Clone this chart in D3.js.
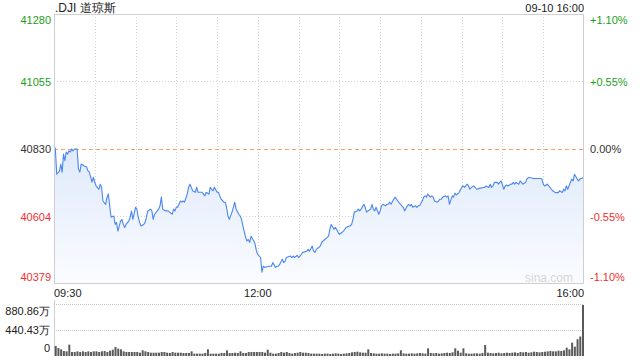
<!DOCTYPE html>
<html><head><meta charset="utf-8">
<script src="https://cdn.jsdelivr.net/npm/d3@7"></script>
<style>body{margin:0;background:#fff}svg{display:block}text{font-family:"Liberation Sans",Arial,sans-serif}</style>
</head><body><svg id="c" width="640" height="360"></svg>
<script>
const title = ".DJI 道琼斯";
const stamp = "09-10 16:00";
const prevClose = 40830;
const pctTicks = [0.011, 0.0055, 0, -0.0055, -0.011];
const priceLabels = ["41280", "41055", "40830", "40604", "40379"];
const pctLabels = ["+1.10%", "+0.55%", "0.00%", "-0.55%", "-1.10%"];
const timeLabels = [[0, "09:30"], [150, "12:00"], [390, "16:00"]];
const volTicks = [880.86, 440.43, 0];
const volLabels = ["880.86万", "440.43万", "0"];
// [minute since 09:30, price]
const series = [[0,40843],[1,40830],[2,40746],[4,40756],[5,40780],[6,40753],[7,40813],[8,40791],[9,40820],[10,40813],[11,40824],[12,40820],[13,40830],[14,40824],[15,40830],[17,40830],[18,40763],[19,40753],[20,40780],[22,40774],[24,40770],[25,40757],[26,40753],[28,40720],[29,40736],[30,40720],[31,40707],[33,40696],[34,40713],[35,40703],[36,40657],[38,40646],[39,40670],[40,40680],[41,40641],[42,40603],[44,40607],[45,40579],[46,40586],[47,40557],[49,40590],[50,40596],[51,40579],[52,40569],[53,40579],[55,40590],[56,40603],[57,40624],[58,40596],[60,40636],[61,40630],[62,40603],[63,40586],[64,40574],[66,40579],[67,40586],[68,40603],[69,40624],[71,40630],[72,40624],[73,40596],[74,40613],[76,40624],[77,40630],[78,40641],[79,40670],[80,40630],[82,40624],[84,40624],[85,40620],[87,40613],[88,40630],[89,40624],[90,40636],[91,40636],[93,40657],[94,40653],[95,40657],[96,40653],[98,40680],[99,40702],
[100,40713],[101,40703],[102,40691],[104,40686],[105,40703],[106,40686],[109,40686],[110,40680],[111,40674],[112,40686],[114,40680],[115,40703],[116,40696],[117,40691],[118,40703],[120,40686],[121,40686],[122,40674],[123,40663],[125,40653],[126,40653],[127,40636],[128,40607],[129,40596],[131,40620],[132,40636],[133,40653],[134,40630],[136,40613],[137,40607],[138,40596],[139,40574],[141,40536],[142,40524],[143,40529],[144,40519],[145,40540],[147,40524],[148,40513],[149,40490],[150,40479],[152,40469],[153,40420],[154,40440],[155,40436],[158,40440],[160,40440],[161,40452],[163,40436],[164,40440],[165,40440],[166,40446],[168,40463],[169,40452],[170,40457],[171,40469],[174,40474],[175,40469],[176,40474],[177,40469],[179,40476],[180,40469],[181,40474],[182,40479],[183,40486],[186,40490],[187,40496],[188,40490],[190,40507],[191,40490],[192,40486],[193,40496],[195,40503],[196,40508],[197,40519],[198,40524],
[201,40536],[202,40540],[203,40563],[204,40579],[206,40563],[207,40569],[208,40563],[209,40553],[210,40546],[212,40553],[213,40557],[214,40563],[215,40569],[217,40574],[218,40574],[219,40579],[220,40596],[221,40620],[223,40624],[224,40630],[225,40624],[226,40630],[228,40646],[229,40636],[230,40620],[231,40624],[233,40630],[234,40646],[235,40630],[236,40624],[237,40636],[239,40613],[240,40624],[241,40641],[242,40646],[244,40641],[245,40646],[246,40646],[247,40653],[248,40646],[250,40663],[251,40670],[252,40663],[253,40657],[255,40646],[256,40641],[257,40636],[258,40624],[260,40641],[261,40646],[262,40641],[263,40646],[264,40636],[266,40641],[267,40636],[268,40641],[269,40641],[271,40657],[272,40670],[273,40674],[274,40670],[275,40680],[277,40670],[278,40674],[279,40670],[280,40657],[282,40653],[283,40657],[284,40663],[285,40663],[286,40670],[288,40674],[289,40670],[290,40674],[291,40646],[293,40674],[294,40670],[295,40683],[296,40677],[298,40685],
[300,40702],[301,40707],[302,40702],[304,40713],[305,40707],[306,40696],[307,40702],[309,40707],[310,40702],[311,40696],[313,40699],[316,40702],[317,40702],[318,40707],[320,40702],[321,40713],[322,40702],[323,40707],[324,40719],[326,40719],[327,40713],[328,40719],[329,40724],[331,40696],[332,40707],[333,40710],[334,40707],[336,40713],[337,40713],[338,40719],[339,40713],[340,40719],[342,40713],[343,40724],[344,40719],[345,40713],[347,40719],[348,40730],[349,40735],[350,40735],[353,40732],[355,40732],[358,40732],[359,40730],[360,40713],[361,40707],[363,40713],[364,40707],[365,40702],[366,40696],[367,40691],[369,40685],[371,40685],[372,40691],[374,40685],[375,40696],[376,40691],[377,40707],[378,40696],[380,40719],[381,40730],[382,40724],[383,40746],[385,40730],[386,40724],[387,40730],[388,40732],[390,40735]];
// volume per 2-minute bar, in 万
const volumes = [170,136,113,85,79,192,68,68,79,68,
79,68,79,68,79,79,68,79,85,68,
90,107,153,124,113,79,68,68,68,68,
68,56,96,79,68,56,56,56,56,68,
68,56,51,68,56,56,56,51,51,51,
79,40,40,40,40,51,113,40,40,40,
40,51,51,96,51,51,56,51,79,51,
51,68,68,68,68,68,68,56,107,56,
40,40,51,68,56,68,51,40,51,56,
68,56,56,51,40,40,40,
40,34,40,40,34,40,45,40,34,40,45,51,
62,68,73,62,56,
56,113,
51,45,40,40,45,40,40,34,40,40,45,
96,
45,40,40,45,40,45,51,45,40,
130,
51,45,51,40,45,51,56,51,
62,130,90,56,130,
45,40,40,45,45,40,51,
186,
56,51,45,51,56,45,51,56,51,56,62,51,
68,62,68,56,62,73,68,62,68,73,
79,85,79,79,90,85,96,
141,113,226,158,283,330,865];

const svg = d3.select("#c");
const L = 54, R = 584, T = 14, B = 284, VT = 304, VB = 356;
const x = d3.scaleLinear().domain([0, 390]).range([L, R]);
const y = d3.scaleLinear().domain([prevClose * (1 - 0.011), prevClose * (1 + 0.011)]).range([B, T]);
const vy = d3.scaleLinear().domain([0, 880.86]).range([VB, VT]);

const green = "#1a9f1a", red = "#f03030", dark = "#333";

// gradient
const defs = svg.append("defs");
const g = defs.append("linearGradient").attr("id", "ag").attr("x1", 0).attr("y1", 0).attr("x2", 0).attr("y2", 1);
g.append("stop").attr("offset", "0%").attr("stop-color", "#dfe9fb");
g.append("stop").attr("offset", "100%").attr("stop-color", "#fafcff");

// vertical grid
const vgrid = d3.range(30, 390, 30);
svg.append("g").selectAll("line").data(vgrid).join("line")
  .attr("x1", d => Math.round(x(d)) + 0.5).attr("x2", d => Math.round(x(d)) + 0.5)
  .attr("y1", T).attr("y2", B)
  .attr("stroke", "#d0d0d0").attr("stroke-dasharray", "1,2");
// horizontal grid
svg.append("g").selectAll("line").data(pctTicks.filter(p => p !== 0 && Math.abs(p) < 0.011)).join("line")
  .attr("x1", L).attr("x2", R)
  .attr("y1", d => Math.round(y(prevClose * (1 + d))) + 0.5).attr("y2", d => Math.round(y(prevClose * (1 + d))) + 0.5)
  .attr("stroke", "#d0d0d0").attr("stroke-dasharray", "1,2");

// area + line
const area = d3.area().x(d => x(d[0])).y0(B).y1(d => y(d[1]));
svg.append("path").datum(series).attr("d", area).attr("fill", "url(#ag)");

// zero line
svg.append("line").attr("x1", L).attr("x2", R)
  .attr("y1", Math.round(y(prevClose)) + 0.5).attr("y2", Math.round(y(prevClose)) + 0.5)
  .attr("stroke", "#f0a070").attr("stroke-dasharray", "4,3");

const line = d3.line().x(d => x(d[0])).y(d => y(d[1]));
svg.append("path").datum(series).attr("d", line).attr("fill", "none")
  .attr("stroke", "#4a86f0").attr("stroke-width", 1.1).attr("stroke-linejoin", "round");

// frame
svg.append("rect").attr("x", L + 0.5).attr("y", T + 0.5).attr("width", R - L - 1).attr("height", B - T - 1)
  .attr("fill", "none").attr("stroke", "#cfcfcf");

// watermark
svg.append("text").attr("x", 573).attr("y", 282).attr("text-anchor", "end")
  .attr("font-size", 12).attr("fill", "#d6d6d6").text("sina.com");

// left labels
const lblY = [24, 86, 153, 221, 281];
svg.append("g").selectAll("text").data(priceLabels).join("text")
  .attr("x", 51).attr("y", (d, i) => lblY[i]).attr("text-anchor", "end").attr("font-size", 11)
  .attr("fill", (d, i) => pctTicks[i] > 0 ? green : pctTicks[i] < 0 ? red : dark).text(d => d);
svg.append("g").selectAll("text").data(pctLabels).join("text")
  .attr("x", 590).attr("y", (d, i) => lblY[i]).attr("font-size", 11)
  .attr("fill", (d, i) => pctTicks[i] > 0 ? green : pctTicks[i] < 0 ? red : dark).text(d => d);

// title
svg.append("text").attr("x", 55).attr("y", 12).attr("font-size", 12).attr("fill", "#222").text(title);
svg.append("text").attr("x", 584).attr("y", 12).attr("text-anchor", "end").attr("font-size", 11).attr("fill", "#222").text(stamp);

// time labels
svg.append("g").selectAll("text").data(timeLabels).join("text")
  .attr("x", d => x(d[0])).attr("y", 297).attr("font-size", 11).attr("fill", "#222")
  .attr("text-anchor", d => d[0] === 0 ? "start" : d[0] === 390 ? "end" : "middle").text(d => d[1]);

// volume panel
svg.append("line").attr("x1", L + 0.5).attr("x2", L + 0.5).attr("y1", 300).attr("y2", VB).attr("stroke", "#cfcfcf");
svg.append("g").selectAll("line").data(volTicks.filter(v => v > 0)).join("line")
  .attr("x1", L).attr("x2", R).attr("y1", d => Math.round(vy(d)) + 0.5).attr("y2", d => Math.round(vy(d)) + 0.5)
  .attr("stroke", "#c8c8c8").attr("stroke-dasharray", "1,1");
const vlY = [315, 334, 352];
svg.append("g").selectAll("text").data(volLabels).join("text")
  .attr("x", 50).attr("y", (d, i) => vlY[i]).attr("text-anchor", "end").attr("font-size", 11).attr("fill", "#222").text(d => d);
svg.append("g").selectAll("rect").data(volumes).join("rect")
  .attr("x", (d, i) => x(2 * (i + 1)) - 2).attr("width", 2)
  .attr("y", d => vy(d)).attr("height", d => VB - vy(d))
  .attr("fill", "#5a5a5a");
</script></body></html>
